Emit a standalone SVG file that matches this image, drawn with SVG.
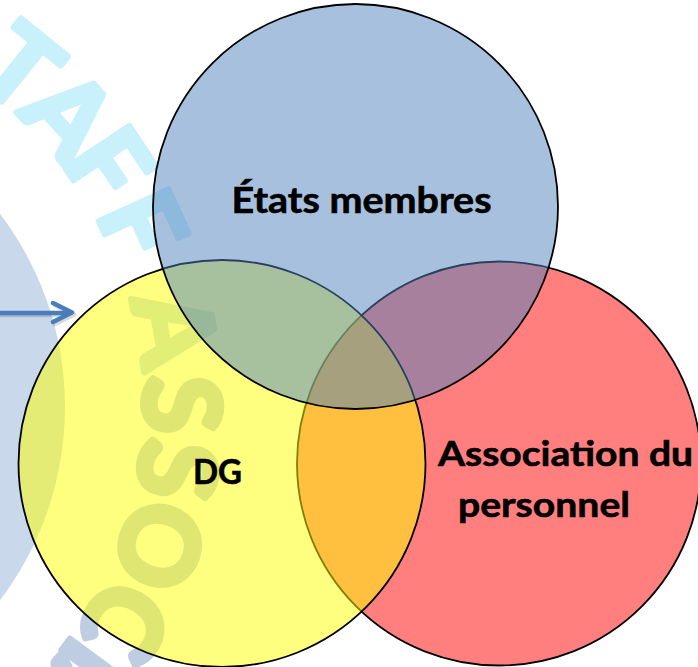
<svg xmlns="http://www.w3.org/2000/svg" width="698" height="667" viewBox="0 0 698 667">
  <style>
    .wm { font-family: Lato, "Open Sans", sans-serif; font-weight: bold; font-size: 106px; stroke-width: 6; stroke-linejoin: round; text-anchor: middle; }
    .wm-c { fill: #C9F1FB; stroke: #C9F1FB; }
    .wm-m { fill: #C4DFEE; stroke: #C4DFEE; }
    .wm-g { fill: #BFCDE3; stroke: #BFCDE3; }
    .venn { stroke: #000; stroke-width: 1.8; }
    .label { font-family: Lato, "Liberation Sans", sans-serif; font-weight: bold; fill: #000; stroke: #000; stroke-width: 0.6; }
    .arrow { fill: none; stroke: #4A7EBB; stroke-width: 4.5; stroke-linecap: round; stroke-linejoin: round; }
    .arrow-shadow { fill: none; stroke: #000; stroke-opacity: 0.15; stroke-width: 4.5; stroke-linecap: round; stroke-linejoin: round; }
  </style>
  <rect width="698" height="667" fill="#FFFFFF"/>
  <g id="watermark">
    <circle cx="-255" cy="407" r="320" fill="#C9D8EA"/>
    <text class="wm wm-c" transform="translate(-60,58) rotate(29)">S</text>
    <text class="wm wm-c" transform="translate(-3.9,97) rotate(39)">T</text>
    <text class="wm wm-c" transform="translate(41.5,140) rotate(48)">A</text>
    <text class="wm wm-c" transform="translate(77.3,186.2) rotate(56.4)">F</text>
    <text class="wm wm-c" transform="translate(107.8,240.9) rotate(65.4)">F</text>
    <text class="wm wm-m" transform="translate(137.6,335.7) rotate(79.7)">A</text>
    <text class="wm wm-g" transform="translate(144,404.9) rotate(89.7)">S</text>
    <text class="wm wm-g" transform="translate(139.8,464.6) rotate(98.3)">S</text>
    <text class="wm wm-g" transform="translate(123.4,533.6) rotate(108.5)">O</text>
    <text class="wm wm-g" transform="translate(92.3,603.5) rotate(119.5)">C</text>
    <text class="wm wm-g" transform="translate(65.7,644.3) rotate(126.5)">I</text>
    <text class="wm wm-g" transform="translate(36.8,679.1) rotate(133)">A</text>
  </g>
  <g id="connectors">
    <path class="arrow-shadow" d="M0,315 H72 M55,305 L74,314.5 L55,324"/>
    <path class="arrow" d="M0,313 H71 M53,303 L72,312.5 L53,322"/>
  </g>
  <g id="node-association">
    <circle class="venn" cx="499" cy="463.5" r="202" fill="#FF0000" fill-opacity="0.5"/>
  </g>
  <g id="node-dg">
    <circle class="venn" cx="222" cy="463.5" r="203.5" fill="#FFFF00" fill-opacity="0.5"/>
  </g>
  <g id="node-etats">
    <circle class="venn" cx="355.5" cy="206.5" r="202.5" fill="#4F81BD" fill-opacity="0.5"/>
  </g>
  <g id="labels">
    <text class="label" x="231.5" y="212.5" font-size="36" textLength="260" lengthAdjust="spacingAndGlyphs">États membres</text>
    <text class="label" x="193" y="484" font-size="35" textLength="49" lengthAdjust="spacingAndGlyphs">DG</text>
    <text class="label" x="438" y="466" font-size="35" textLength="255" lengthAdjust="spacingAndGlyphs">Association du</text>
    <text class="label" x="458" y="517" font-size="35" textLength="172" lengthAdjust="spacingAndGlyphs">personnel</text>
  </g>
</svg>
